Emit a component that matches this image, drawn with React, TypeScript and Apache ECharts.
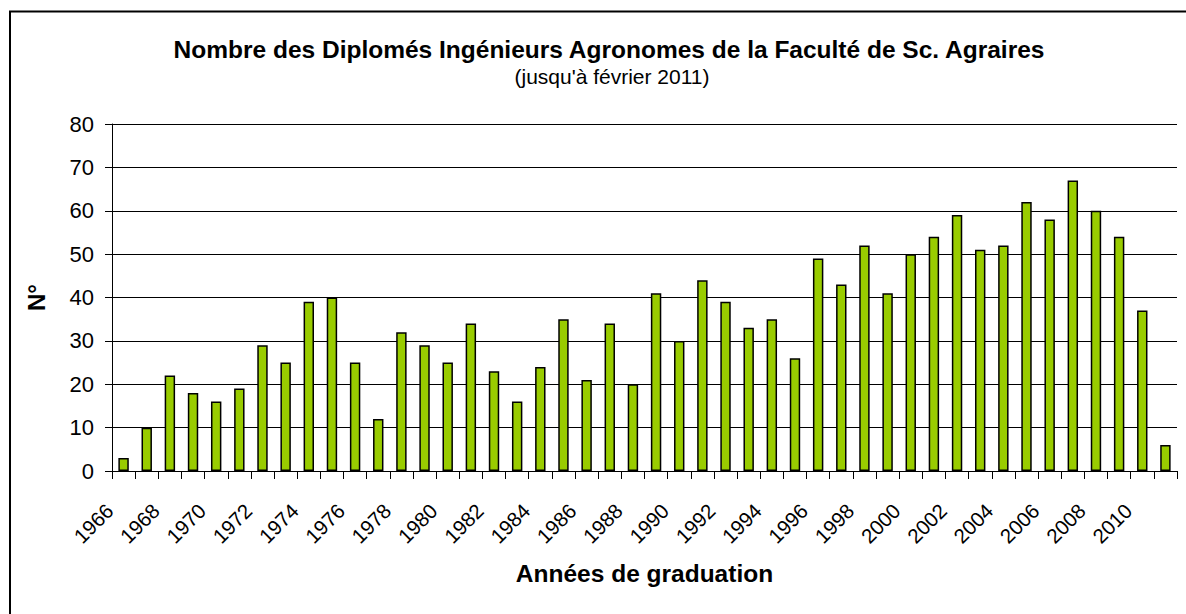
import React, { useEffect, useRef } from "react";
import * as echarts from "echarts";

const years: string[] = [
  "1966","1967","1968","1969","1970","1971","1972","1973","1974","1975",
  "1976","1977","1978","1979","1980","1981","1982","1983","1984","1985",
  "1986","1987","1988","1989","1990","1991","1992","1993","1994","1995",
  "1996","1997","1998","1999","2000","2001","2002","2003","2004","2005",
  "2006","2007","2008","2009","2010","2011",
];

const graduates: number[] = [
  3, 10, 22, 18, 16, 19, 29, 25, 39, 40,
  25, 12, 32, 29, 25, 34, 23, 16, 24, 35,
  21, 34, 20, 41, 30, 44, 39, 33, 35, 26,
  49, 43, 52, 41, 50, 54, 59, 51, 52, 62,
  58, 67, 60, 54, 37, 6,
];

const titleText = "Nombre des Diplomés Ingénieurs Agronomes de la Faculté de Sc. Agraires";
const subtitleText = "(jusqu'à février 2011)";
const xName = "Années de graduation";
const yName = "N°";

const FONT = "'Liberation Sans', Arial, sans-serif";

export default function App() {
  const ref = useRef<HTMLDivElement>(null);
  useEffect(() => {
    if (!ref.current) return;
    const chart = echarts.init(ref.current, undefined, { renderer: "svg" });
    chart.setOption({
      animation: false,
      backgroundColor: "#ffffff",
      title: [
        {
          text: titleText,
          left: 604,
          top: 32,
          textAlign: "center",
          textStyle: { fontFamily: FONT, fontSize: 24.5, fontWeight: "bold", color: "#000" },
        },
        {
          text: subtitleText,
          left: 607,
          top: 61,
          textAlign: "center",
          textStyle: { fontFamily: FONT, fontSize: 21, fontWeight: "normal", color: "#000" },
        },
      ],
      graphic: [
        {
          type: "rect",
          shape: { x: 10, y: 11.5, width: 1200, height: 620 },
          style: { fill: "none", stroke: "#000", lineWidth: 2 },
          silent: true,
        },
      ],
      grid: { left: 112, right: 9, top: 124, bottom: 143 },
      xAxis: {
        type: "category",
        data: years,
        name: xName,
        nameLocation: "middle",
        nameGap: 90,
        nameTextStyle: { fontFamily: FONT, fontSize: 24.5, fontWeight: "bold", color: "#000" },
        axisLine: { show: true, lineStyle: { color: "#000", width: 1 } },
        axisTick: { show: true, interval: 0, length: 8, lineStyle: { color: "#000" } },
        axisLabel: {
          interval: 1,
          rotate: 45,
          margin: 22,
          padding: [0, 20, 0, 0],
          fontFamily: FONT,
          fontSize: 20.5,
          color: "#000",
        },
        splitLine: { show: false },
      },
      yAxis: {
        type: "value",
        min: 0,
        max: 80,
        interval: 10,
        name: yName,
        nameLocation: "middle",
        nameGap: 64,
        nameTextStyle: { fontFamily: FONT, fontSize: 24, fontWeight: "bold", color: "#000" },
        axisLine: { show: true, lineStyle: { color: "#000", width: 1 } },
        axisTick: { show: true, length: 7, lineStyle: { color: "#000" } },
        axisLabel: { margin: 18, fontFamily: FONT, fontSize: 22, color: "#000" },
        splitLine: { show: true, lineStyle: { color: "#000", width: 1 } },
      },
      series: [
        {
          type: "bar",
          data: graduates,
          barCategoryGap: "55%",
          itemStyle: { color: "#99CC00", borderColor: "#000", borderWidth: 1.5 },
        },
      ],
    });
    return () => chart.dispose();
  }, []);
  return (
    <div
      ref={ref}
      style={{ position: "fixed", left: 0, top: 0, width: 1186, height: 614 }}
    />
  );
}
